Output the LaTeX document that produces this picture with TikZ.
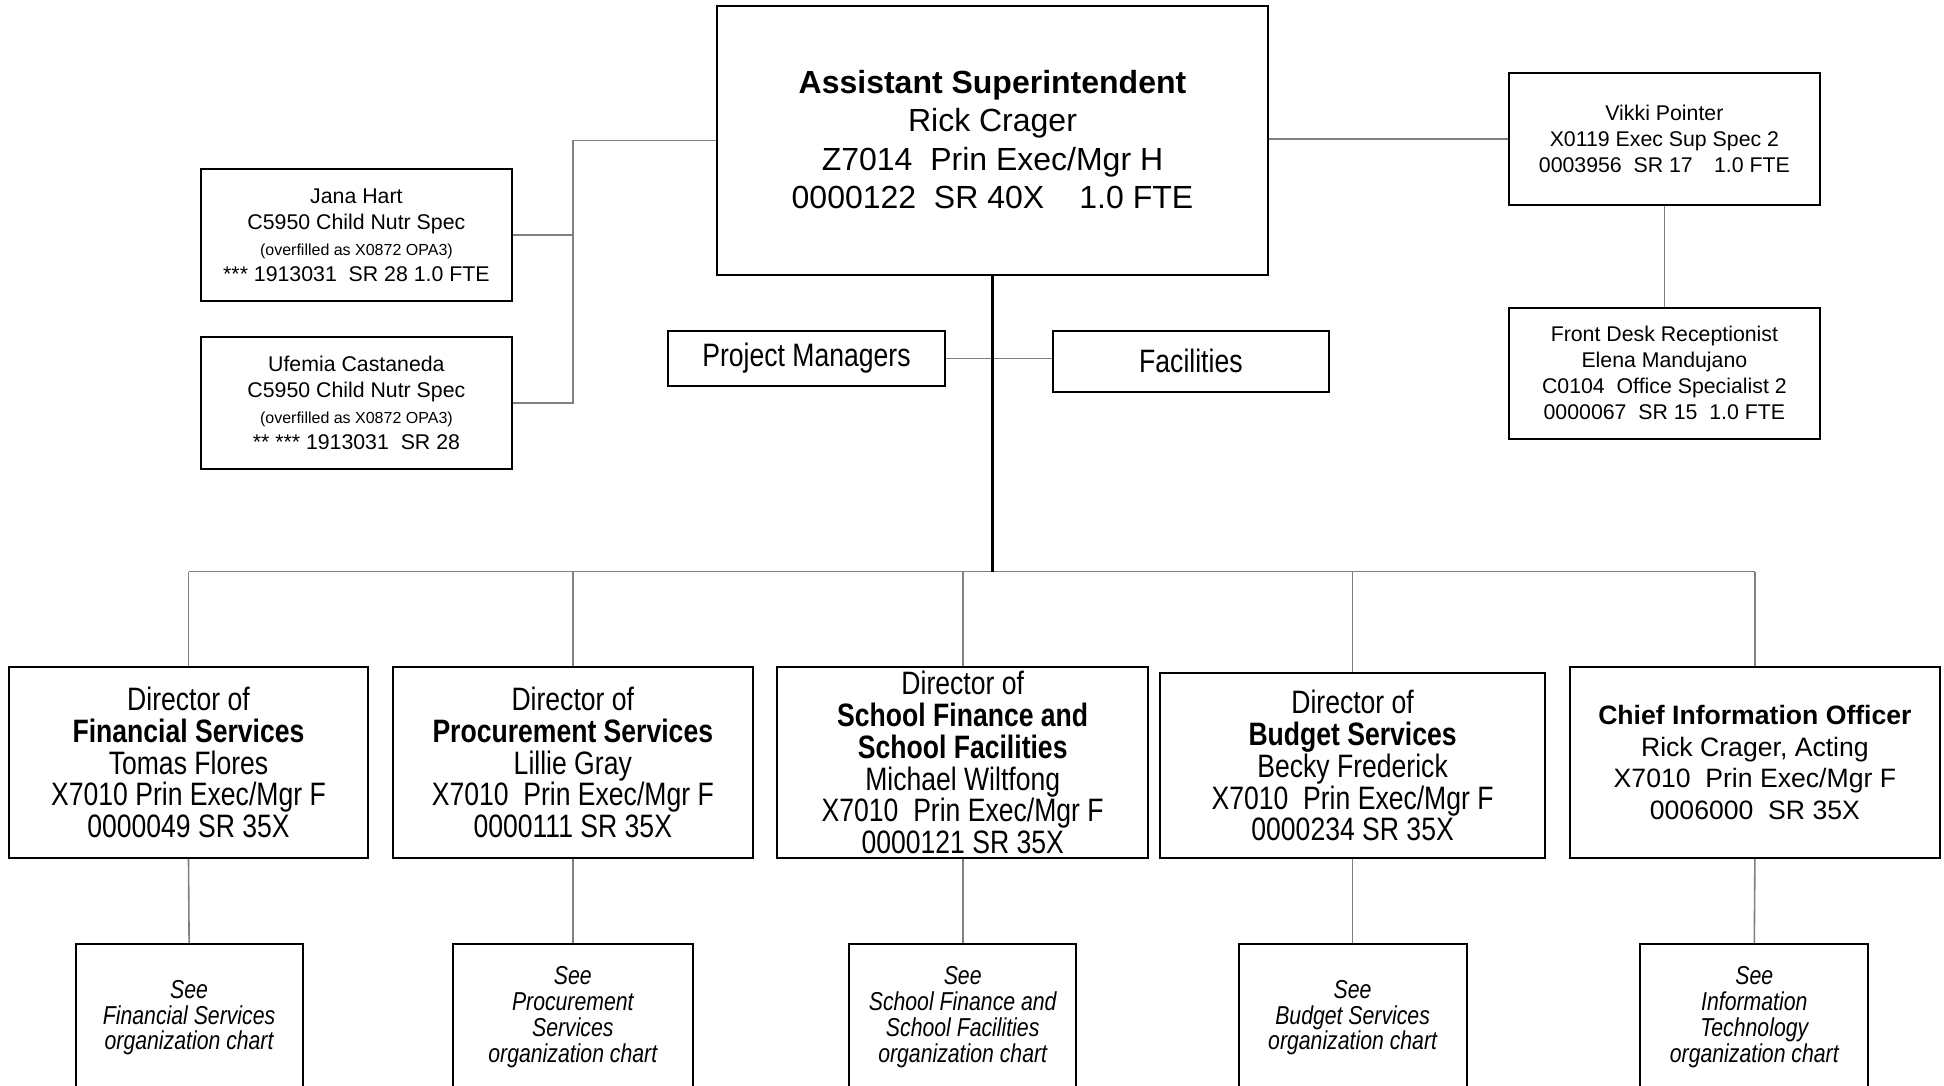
\documentclass[tikz,border=0pt]{standalone}
\usepackage{fontspec}
\setmainfont{Liberation Sans}
\newfontfamily\narrowfont[FakeStretch=0.82]{Liberation Sans}

\begin{document}
\begin{tikzpicture}[x=1pt,y=-1pt,
  box/.style={draw=black, line width=2pt, fill=white, inner sep=0pt, align=center},
  topbox/.style={box, font=\fontsize{32}{38.4}\selectfont},
  smallbox/.style={box, minimum width=311.2pt, minimum height=131pt, font=\fontsize{21.3}{26}\selectfont},
  dirbox/.style={box, minimum height=191pt, font=\narrowfont\fontsize{32.4}{31.9}\selectfont},
  ciobox/.style={box, minimum height=191pt, font=\fontsize{26.6}{31.9}\selectfont},
  unitbox/.style={box, minimum height=54.6pt, font=\narrowfont\fontsize{32.4}{36}\selectfont},
  seebox/.style={box, minimum height=150pt},
  seetext/.style={inner sep=0pt, align=center, font=\narrowfont\itshape\fontsize{25.9}{25.8}\selectfont},
  conn/.style={draw=black!50, line width=1.6pt},
  trunk/.style={draw=black, line width=2.4pt}
]
\useasboundingbox (0,0) rectangle (1944,1086);
\clip (0,0) rectangle (1944,1086);
\fill[white] (0,0) rectangle (1944,1086);

% top of the chart
\node[topbox, minimum width=551.7pt, minimum height=269pt] (top) at (992.5,140.7) {};
\node[inner sep=0pt, align=center, font=\fontsize{32}{38.4}\selectfont] (toptext) at (992.5,139.4)
  {\textbf{Assistant Superintendent}\\Rick Crager\\Z7014\ \ Prin Exec/Mgr H\\0000122\ \ SR 40X\hspace{1.1em}1.0 FTE};

% staff beside the top box
\node[smallbox] (jana) at (356.4,235)
  {Jana Hart\\C5950 Child Nutr Spec\\{\fontsize{16}{26}\selectfont (overfilled as X0872 OPA3)}\\*** 1913031\ \ SR 28 1.0 FTE};
\node[smallbox, minimum height=131.4pt] (uf) at (356.4,402.9)
  {Ufemia Castaneda\\C5950 Child Nutr Spec\\{\fontsize{16}{26}\selectfont (overfilled as X0872 OPA3)}\\** *** 1913031\ \ SR 28};
\node[smallbox, minimum height=131.5pt] (vikki) at (1664.4,138.9)
  {Vikki Pointer\\X0119 Exec Sup Spec 2\\0003956\ \ SR 17\hspace{1em}1.0 FTE};
\node[smallbox, minimum height=131.4pt] (front) at (1664.4,373.2)
  {Front Desk Receptionist\\Elena Mandujano\\C0104\ \ Office Specialist 2\\0000067\ \ SR 15\ \ 1.0 FTE};

\node[unitbox, minimum width=276.4pt] (pm) at (806.5,358.3) {Project Managers};
\node[unitbox, minimum width=276.5pt, minimum height=60.8pt] (fac) at (1190.9,361.4) {Facilities};

% directors
\node[dirbox, minimum width=359.5pt] (d1) at (188.5,762.5)
  {Director of\\\textbf{Financial Services}\\Tomas Flores\\X7010 Prin Exec/Mgr F\\0000049 SR 35X};
\node[dirbox, minimum width=359.5pt] (d2) at (572.8,762.5)
  {Director of\\\textbf{Procurement Services}\\Lillie Gray\\X7010\ \ Prin Exec/Mgr F\\0000111 SR 35X};
\node[dirbox, minimum width=370.7pt] (d3) at (962.7,762.5)
  {Director of\\\textbf{School Finance and}\\\textbf{School Facilities}\\Michael Wiltfong\\X7010\ \ Prin Exec/Mgr F\\0000121 SR 35X};
\node[dirbox, minimum width=384.3pt, minimum height=184.8pt] (d4) at (1352.6,765.6)
  {Director of\\\textbf{Budget Services}\\Becky Frederick\\X7010\ \ Prin Exec/Mgr F\\0000234 SR 35X};
\node[ciobox, minimum width=370.7pt] (d5) at (1754.9,762.5)
  {\textbf{Chief Information Officer}\\Rick Crager, Acting\\X7010\ \ Prin Exec/Mgr F\\0006000\ \ SR 35X};

% references to the unit charts
\node[seebox, minimum width=226.9pt] (s1) at (189.1,1019) {};
\node[seebox, minimum width=240.5pt] (s2) at (572.8,1019) {};
\node[seebox, minimum width=226.9pt] (s3) at (962.7,1019) {};
\node[seebox, minimum width=228pt] (s4) at (1352.6,1019) {};
\node[seebox, minimum width=228pt] (s5) at (1754.3,1019) {};
\node[seetext] (t1) at (189.1,1017.8) {See\\Financial Services\\organization chart};
\node[seetext] (t2) at (572.8,1017.3) {See\\Procurement\\Services\\organization chart};
\node[seetext] (t3) at (962.7,1017.3) {See\\School Finance and\\School Facilities\\organization chart};
\node[seetext] (t4) at (1352.6,1017.8) {See\\Budget Services\\organization chart};
\node[seetext] (t5) at (1754.3,1017.3) {See\\Information\\Technology\\organization chart};

% connectors
\coordinate (brk) at (572.8,0);
\coordinate (bus) at (992.5,571.5);
\draw[conn] (top.west) -- (brk |- top.west) -- (brk |- uf.east) -- (uf.east);
\draw[conn] (jana.east) -- (brk |- jana.east);
\draw[conn] (top.east |- vikki.west) -- (vikki.west);
\draw[conn] (vikki.south) -- (front.north);
\draw[conn] (pm.east) -- (pm.east -| fac.west);
\draw[conn] (d1.north |- bus) -- (d5.north |- bus);
\foreach \d in {d1,d2,d3,d4,d5} \draw[conn] (\d.north |- bus) -- (\d.north);
\foreach \d/\s in {d1/s1,d2/s2,d3/s3,d4/s4,d5/s5} \draw[conn] (\d.south) -- (\s.north);
\draw[trunk] (top.south) -- (bus);
\end{tikzpicture}
\end{document}
